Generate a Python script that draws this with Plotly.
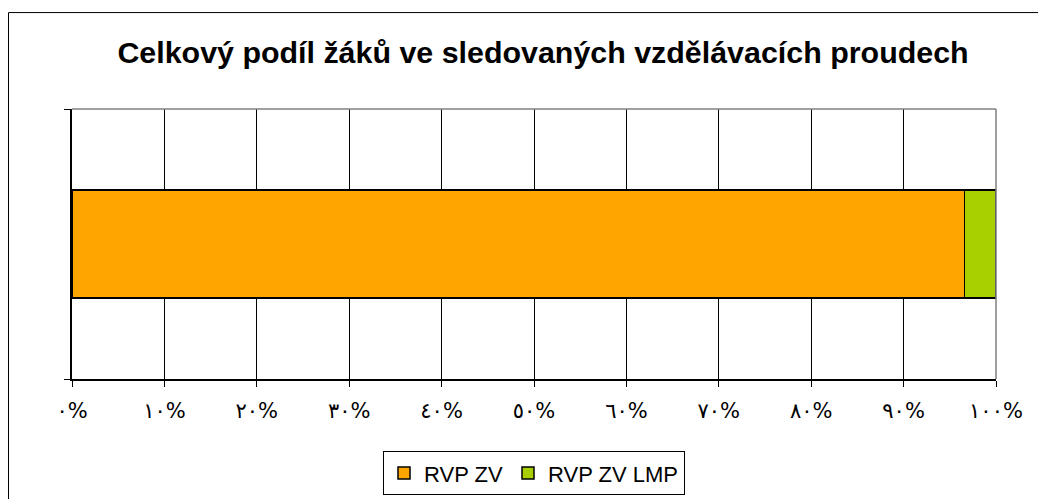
import plotly.graph_objects as go

series_names = ["RVP ZV", "RVP ZV LMP"]
series_values = [96.6, 3.4]
series_colors = ["#FFA500", "#A8D000"]
tick_vals = [0, 10, 20, 30, 40, 50, 60, 70, 80, 90, 100]
tick_labels = ["٠%", "١٠%", "٢٠%", "٣٠%", "٤٠%", "٥٠%", "٦٠%", "٧٠%", "٨٠%", "٩٠%", "١٠٠%"]
title_text = "Celkový podíl žáků ve sledovaných vzdělávacích proudech"

W, H = 1046, 499
OFF = 8  # page body margin
L, T = 72 - OFF, 107 - OFF + 2
R = W - (996 - OFF)
B = H - (379 - OFF) - 3
pw, ph = W - L - R, H - T - B


def px_x(p):
    """screen pixel x -> paper x"""
    return (p - OFF - L) / pw


def px_y(p):
    """screen pixel y -> paper y"""
    return (H - B - (p - OFF)) / ph


fig = go.Figure()
for name, val, col in zip(series_names, series_values, series_colors):
    fig.add_trace(go.Bar(
        x=[val], y=[0], orientation="h", name=name, width=0.4,
        marker=dict(color=col, line=dict(color="black", width=1.5)),
    ))

shapes = [
    dict(type="rect", xref="paper", yref="paper",
         x0=px_x(8.5), x1=px_x(W + 30), y0=px_y(H + 30), y1=px_y(11.5),
         line=dict(color="black", width=1), fillcolor="rgba(0,0,0,0)", layer="below"),
    dict(type="line", xref="paper", yref="paper", x0=0, x1=1, y0=1, y1=1,
         line=dict(color="#808080", width=1.5)),
    dict(type="line", xref="paper", yref="paper", x0=1, x1=1, y0=0, y1=1,
         line=dict(color="#808080", width=1.5)),
]

fig.update_layout(
    width=W, height=H,
    barmode="stack",
    margin=dict(l=L, r=R, t=T, b=B, pad=0),
    paper_bgcolor="white", plot_bgcolor="white",
    title=dict(text="<b>" + title_text + "</b>", x=px_x(543), xref="paper", xanchor="center",
               y=1 - (52 - OFF) / H, yanchor="middle",
               font=dict(family="Liberation Sans, Arial", size=30.4, color="black")),
    xaxis=dict(range=[0, 100], tickvals=tick_vals, ticktext=tick_labels,
               showgrid=True, gridcolor="black", gridwidth=1,
               showline=True, linecolor="black", linewidth=1.5,
               ticks="outside", ticklen=6, tickcolor="black", tickwidth=1,
               ticklabelstandoff=6,
               tickfont=dict(family="DejaVu Sans, Liberation Sans", size=21, color="black"),
               zeroline=False, fixedrange=True),
    yaxis=dict(range=[-0.5, 0.5], tickvals=[-0.5, 0.5], showticklabels=False,
               showgrid=False, zeroline=False,
               showline=True, linecolor="black", linewidth=1.5,
               ticks="outside", ticklen=6, tickcolor="black", tickwidth=1,
               fixedrange=True),
    legend=dict(orientation="h", x=px_x(534), xanchor="center", y=px_y(455), yanchor="top",
                traceorder="normal",
                bordercolor="black", borderwidth=1, bgcolor="white",
                font=dict(family="Liberation Sans, Arial", size=22, color="black"),
                itemwidth=30, tracegroupgap=0),
    shapes=shapes,
    showlegend=True,
)

fig.write_html("out.html")
